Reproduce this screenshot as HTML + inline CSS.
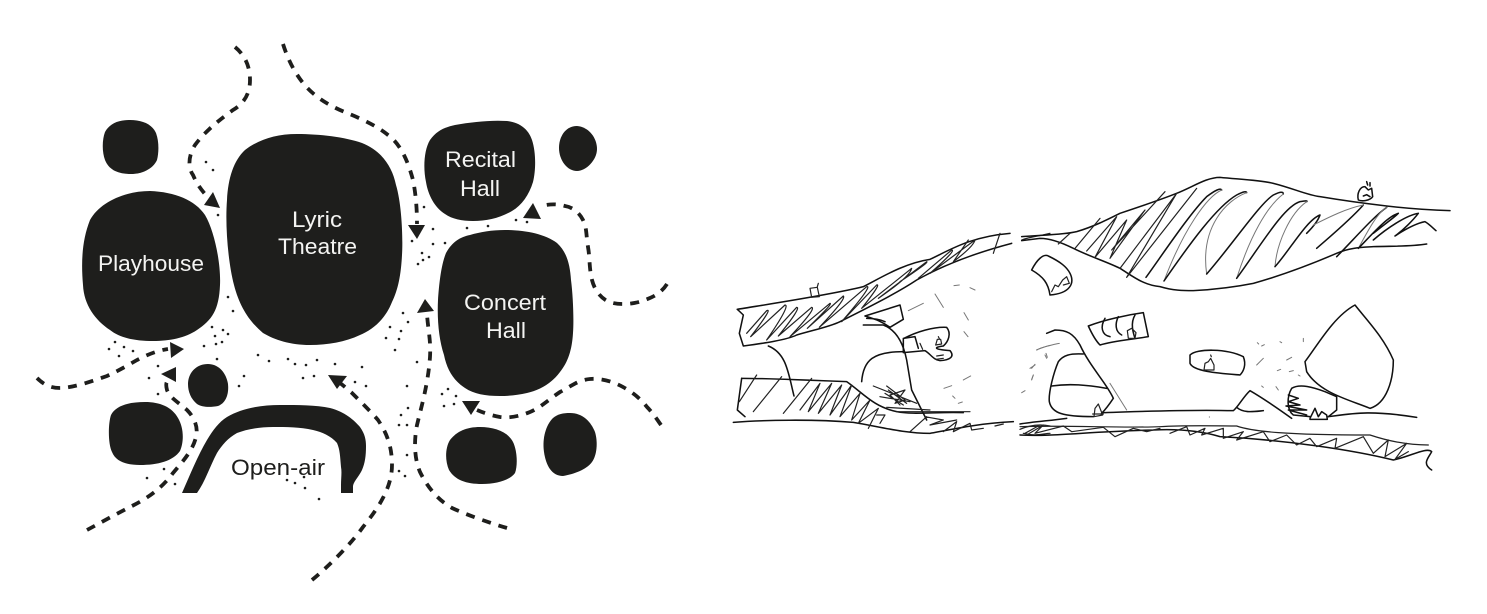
<!DOCTYPE html>
<html>
<head>
<meta charset="utf-8">
<style>
html,body{margin:0;padding:0;background:#fff;width:1487px;height:614px;overflow:hidden}
svg{display:block}
text{font-family:"Liberation Sans",sans-serif;font-size:22px}
.w{fill:#f4f4f2}
.k{fill:#1e1e1c}
.d{fill:none;stroke:#1e1e1c;stroke-width:3.8;stroke-dasharray:9 8}
.s{fill:none;stroke:#111;stroke-width:4.6;stroke-linecap:round;stroke-linejoin:round}
.t{fill:none;stroke:#222;stroke-width:3.6;stroke-linecap:round;stroke-linejoin:round}
.g{fill:none;stroke:#777;stroke-width:3;stroke-linecap:round;stroke-linejoin:round}
</style>
</head>
<body>
<svg width="1487" height="614" viewBox="0 0 1487 614" xmlns="http://www.w3.org/2000/svg">
<rect width="1487" height="614" fill="#fff"/>

<!-- blobs -->
<g class="k">
<path d="M130 120C142 120 152 124 156 133C159 141 159 152 157 160C153 169 142 174 131 174C118 174 109 170 105 160C102 152 102 140 105 132C110 123 119 120 130 120Z"/>
<path d="M150 191C175 192 195 200 205 215C215 232 221 265 220 285C219 310 212 320 197 330C185 338 170 341 153 341C135 341 120 338 110 330C95 320 84 305 83 285C81 262 82 240 90 220C100 202 125 191 150 191Z"/>
<path d="M297 134C320 134 345 137 362 143C380 150 392 165 396 185C402 205 403 240 402 255C401 275 398 290 392 302C385 320 372 330 360 335C345 342 328 345 310 345C290 345 275 340 263 333C250 322 240 308 234 285C228 262 225 225 227 200C228 178 234 160 245 150C258 140 275 134 297 134Z"/>
<path d="M507 121C518 122 528 128 532 140C536 152 536 170 533 182C529 195 522 205 512 211C500 218 487 221 473 221C462 221 452 219 445 214C435 208 428 195 426 182C423 168 424 150 430 140C437 130 446 127 455 125C472 122 490 120 507 121Z"/>
<path d="M577 126C589 127 597 138 597 149C597 160 586 171 577 171C567 171 559 160 559 148C559 136 566 126 577 126Z"/>
<path d="M505 230C525 230 545 234 557 243C567 252 570 265 571 280C573 295 574 320 573 333C572 350 568 362 560 372C552 383 540 390 527 393C518 395 510 396 500 396C485 396 474 394 465 388C454 381 447 370 444 355C439 340 437 320 438 300C439 285 441 265 446 253C452 242 460 237 470 235C480 232 492 230 505 230Z"/>
<path d="M208 364C218 364 226 372 228 384C229 394 226 403 218 406C212 407 203 408 197 404C191 399 188 392 188 384C188 373 196 364 208 364Z"/>
<path d="M145 402C160 402 172 407 178 418C184 428 184 442 180 451C173 461 158 465 140 465C127 465 116 462 112 452C108 444 108 424 111 415C116 405 130 402 145 402Z"/>
<path d="M480 427C495 427 508 432 513 442C517 450 518 465 515 473C510 480 497 484 482 484C466 484 455 480 449 470C445 461 445 448 450 440C457 431 467 427 480 427Z"/>
<path d="M570 413C583 413 591 422 595 432C598 442 597 455 592 462C586 470 574 474 563 476C552 476 546 466 544 452C542 438 546 425 553 418C558 414 563 413 570 413Z"/>
<path d="M182 493C190 475 198 455 207 440C213 430 219 422 227 417C242 408 262 405 280 405C298 405 316 405 330 408C345 412 354 420 360 427C365 434 366 440 366 446C366 456 365 463 362 470C358 478 353 482 353 487L353 493L341 493L341 485C341 478 342 472 341 467C340 456 340 450 337 443C331 436 322 432 313 430C300 427 286 427 273 427C260 427 247 429 237 433C228 438 222 445 217 453C210 466 205 482 197 493Z"/>
</g>

<!-- labels -->
<text class="w" x="98" y="271" textLength="106" lengthAdjust="spacingAndGlyphs">Playhouse</text>
<text class="w" x="292" y="227" textLength="50" lengthAdjust="spacingAndGlyphs">Lyric</text>
<text class="w" x="278" y="254" textLength="79" lengthAdjust="spacingAndGlyphs">Theatre</text>
<text class="w" x="445" y="167" textLength="71" lengthAdjust="spacingAndGlyphs">Recital</text>
<text class="w" x="460" y="196" textLength="40" lengthAdjust="spacingAndGlyphs">Hall</text>
<text class="w" x="464" y="310" textLength="82" lengthAdjust="spacingAndGlyphs">Concert</text>
<text class="w" x="486" y="338" textLength="40" lengthAdjust="spacingAndGlyphs">Hall</text>
<text class="k" x="231" y="475" textLength="94" lengthAdjust="spacingAndGlyphs">Open-air</text>

<!-- dashed routes -->
<path class="d" d="M235 47C246 56 250 68 250 80C250 95 243 104 233 110C222 118 206 130 195 145C188 156 188 168 193 175C196 182 199 187 205 194"/>
<path class="d" d="M283 44C288 60 295 73 303 83C315 98 332 107 347 113C362 119 377 126 388 135C402 145 409 165 413 180C416 195 417 210 417 224"/>
<path class="d" d="M667 284C660 295 650 298 645 300C635 304 622 305 613 303C603 301 595 292 592 280C589 268 590 258 588 247C586 235 587 228 583 220C579 212 572 207 565 206C558 204 552 204 546 205"/>
<path class="d" d="M37 378C45 386 52 388 60 388C72 388 90 382 107 376C120 370 130 364 137 360C145 356 155 351 168 349"/>
<path class="d" d="M87 530C100 523 118 513 132 506C148 498 162 488 173 473C184 460 193 450 196 437C199 425 192 415 187 410C178 402 170 398 167 390C166 386 166 383 167 382"/>
<path class="d" d="M312 580C330 565 350 545 363 527C375 512 392 490 392 465C392 445 386 432 378 420C372 413 362 403 352 393C347 389 344 386 340 383"/>
<path class="d" d="M507 528C490 523 467 515 452 508C438 500 428 488 420 472C414 458 414 440 417 425C421 408 428 385 430 357C431 340 428 330 427 314"/>
<path class="d" d="M661 425C656 418 652 412 647 407C640 398 632 392 623 387C612 381 600 378 590 379C578 380 570 387 560 392C548 400 540 408 530 412C518 417 508 418 500 417C490 415 484 413 477 410"/>

<!-- arrowheads -->
<g class="k">
<path d="M220 208L213 192L204 205Z"/>
<path d="M408 225L425 225L417 239Z"/>
<path d="M533 203L541 219L523 218Z"/>
<path d="M170 342L184 349L171 358Z"/>
<path d="M161 374L176 367L176 382Z"/>
<path d="M328 375L347 376L337 389Z"/>
<path d="M425 299L417 313L434 311Z"/>
<path d="M462 401L480 401L471 415Z"/>
</g>

<!-- dots -->
<g class="k">
<circle cx="206" cy="162" r="1.3"/><circle cx="213" cy="170" r="1.3"/><circle cx="218" cy="215" r="1.3"/><circle cx="228" cy="297" r="1.3"/><circle cx="424" cy="207" r="1.3"/><circle cx="433" cy="229" r="1.3"/><circle cx="412" cy="241" r="1.3"/><circle cx="433" cy="244" r="1.3"/><circle cx="445" cy="243" r="1.3"/><circle cx="422" cy="253" r="1.3"/><circle cx="429" cy="257" r="1.3"/><circle cx="423" cy="260" r="1.3"/><circle cx="418" cy="264" r="1.3"/><circle cx="467" cy="228" r="1.3"/><circle cx="488" cy="226" r="1.3"/><circle cx="516" cy="220" r="1.3"/><circle cx="527" cy="222" r="1.3"/>
<circle cx="233" cy="311" r="1.3"/><circle cx="212" cy="327" r="1.3"/><circle cx="223" cy="330" r="1.3"/><circle cx="228" cy="334" r="1.3"/><circle cx="215" cy="336" r="1.3"/><circle cx="222" cy="342" r="1.3"/><circle cx="216" cy="344" r="1.3"/><circle cx="204" cy="346" r="1.3"/><circle cx="217" cy="359" r="1.3"/><circle cx="115" cy="342" r="1.3"/><circle cx="124" cy="347" r="1.3"/><circle cx="109" cy="349" r="1.3"/><circle cx="133" cy="351" r="1.3"/><circle cx="119" cy="356" r="1.3"/><circle cx="158" cy="366" r="1.3"/><circle cx="149" cy="378" r="1.3"/><circle cx="158" cy="394" r="1.3"/><circle cx="244" cy="376" r="1.3"/><circle cx="239" cy="386" r="1.3"/><circle cx="258" cy="355" r="1.3"/><circle cx="269" cy="361" r="1.3"/><circle cx="288" cy="359" r="1.3"/><circle cx="295" cy="364" r="1.3"/><circle cx="306" cy="365" r="1.3"/><circle cx="317" cy="360" r="1.3"/><circle cx="335" cy="364" r="1.3"/><circle cx="362" cy="367" r="1.3"/><circle cx="303" cy="378" r="1.3"/><circle cx="314" cy="376" r="1.3"/><circle cx="355" cy="382" r="1.3"/><circle cx="366" cy="386" r="1.3"/><circle cx="164" cy="469" r="1.3"/><circle cx="147" cy="478" r="1.3"/><circle cx="175" cy="484" r="1.3"/><circle cx="287" cy="480" r="1.3"/><circle cx="295" cy="483" r="1.3"/><circle cx="304" cy="477" r="1.3"/><circle cx="305" cy="488" r="1.3"/><circle cx="319" cy="499" r="1.3"/>
<circle cx="403" cy="313" r="1.3"/><circle cx="408" cy="322" r="1.3"/><circle cx="390" cy="327" r="1.3"/><circle cx="401" cy="331" r="1.3"/><circle cx="386" cy="338" r="1.3"/><circle cx="399" cy="339" r="1.3"/><circle cx="395" cy="350" r="1.3"/><circle cx="417" cy="362" r="1.3"/><circle cx="407" cy="386" r="1.3"/><circle cx="408" cy="408" r="1.3"/><circle cx="401" cy="415" r="1.3"/><circle cx="399" cy="425" r="1.3"/><circle cx="407" cy="425" r="1.3"/><circle cx="407" cy="455" r="1.3"/><circle cx="399" cy="471" r="1.3"/><circle cx="405" cy="476" r="1.3"/><circle cx="442" cy="394" r="1.3"/><circle cx="448" cy="389" r="1.3"/><circle cx="456" cy="396" r="1.3"/><circle cx="444" cy="406" r="1.3"/><circle cx="454" cy="404" r="1.3"/>
</g>

<!-- sketch left part (coords in 3x space) -->
<g transform="translate(730 220) scale(.33333)">
<path class="s" d="M22 268C100 255 300 225 400 200C450 175 520 130 600 118C660 90 720 50 840 40"/>
<path class="s" d="M22 268L40 285L28 340L40 378C100 370 170 360 200 345C250 330 300 320 330 305C400 270 500 220 560 180C650 130 750 95 845 70"/>
<path class="t" d="M50 340L110 272Q130 262 62 350L165 255Q182 255 110 360L200 262Q215 262 145 348L245 262Q260 265 180 350L300 250Q310 250 232 325L340 228Q350 235 268 322L410 200Q430 195 335 305L440 195Q455 190 395 265L545 145Q540 170 445 235L590 125Q600 125 510 185M565 175L665 90Q680 90 600 160L735 60Q730 80 670 125L715 60M790 100L810 40"/>
<path class="t" d="M240 205L245 232L268 230L262 202ZM265 190L262 200"/>
<path class="s" d="M115 378C170 400 175 460 192 528"/>
<path class="s" d="M35 475C100 475 230 480 350 485C400 520 430 560 500 575C550 585 620 575 700 578"/>
<path class="s" d="M10 607C100 600 250 597 370 607C450 620 520 640 600 640C680 625 750 610 850 605"/>
<path class="s" d="M35 475L22 570L45 590"/>
<path class="t" d="M28 545L80 465M70 575L155 470M160 580L245 475M210 570L270 490L235 575L305 490L265 580L335 495L300 585L365 495L330 590L390 520L365 600L420 540L385 610L445 565L415 625M440 585L465 585L450 610"/>
<path class="s" d="M395 485C400 420 430 395 520 395"/>
<path class="s" d="M405 288L510 255L520 298L480 322C450 300 425 295 405 288ZM410 295C430 295 450 298 465 305"/>
<path class="s" d="M400 315L460 315C500 330 520 370 530 420L545 510L590 600"/>
<path class="s" d="M522 355C560 335 610 320 650 322C665 340 655 365 640 378C610 382 610 388 660 392C675 410 660 420 630 422C610 420 600 400 585 392L520 398L520 355L555 350L565 385"/>
<path class="t" d="M617 375L635 372L632 358L622 358ZM625 350L628 356M618 418L640 415M620 408L640 405M570 370L578 388"/>
<path class="t" d="M430 498L560 550M450 530L540 545M470 562L600 570M500 575L720 575M540 635L590 590M470 498L525 540L495 550L525 510L480 525L510 555M475 510L530 550M465 520L520 555M585 590L640 600L600 615L680 600M640 635L680 605L670 635L720 610L725 630L760 625M795 618L820 612"/>
<path class="g" d="M535 272L580 250M615 222L640 262M672 197L688 195M720 203L735 210M702 278L715 300M702 335L714 350M642 505L665 497M700 480L722 468M668 528L675 535M685 550L697 546M905 445L915 433M905 478L910 465M920 390C935 382 945 380 960 376M948 400L952 412"/>
<path class="t" d="M875 60C900 50 930 48 960 40M870 628C900 615 930 612 960 618M885 640L930 615M880 640C920 650 940 640 960 640"/>
</g>

<!-- hill -->
<g transform="translate(1020 170) scale(.33333)">
<path class="s" d="M5 200C60 195 130 195 170 185C220 170 260 150 300 130C360 110 420 90 470 70C520 50 560 22 600 22C660 28 720 30 760 40C820 55 860 75 900 80C960 90 1030 100 1100 108C1160 115 1220 120 1290 122"/>
<path class="s" d="M5 212L60 205C90 205 130 220 160 235C210 260 260 275 300 295C340 320 370 345 420 350C460 362 490 362 520 362C590 358 650 350 700 340C790 315 880 280 950 250C990 232 1030 232 1060 230C1120 228 1170 230 1220 222"/>
<path class="t" d="M115 222L150 190M165 235L240 145M200 243L290 140L225 262L320 150L270 265L375 120L275 240L435 65M300 295L470 70L320 322L530 55"/>
<path class="s" d="M378 322C430 250 510 130 560 80Q600 50 605 60"/>
<path class="g" d="M605 60C560 80 490 180 432 333"/>
<path class="s" d="M432 333C510 220 590 110 650 75Q680 60 680 68"/>
<path class="g" d="M680 68C620 90 540 170 560 312"/>
<path class="s" d="M560 312C640 220 720 100 760 75Q790 60 790 72"/>
<path class="g" d="M790 72C740 110 690 200 650 325"/>
<path class="s" d="M650 325C720 230 790 110 840 95Q865 90 860 95"/>
<path class="g" d="M860 95C810 130 770 220 765 290"/>
<path class="s" d="M765 290C810 240 860 150 900 135C895 150 880 170 860 190"/>
<path class="s" d="M890 235C930 200 990 150 1030 105"/>
<path class="g" d="M880 165C930 140 980 115 1030 105"/>
<path class="s" d="M950 260C1000 210 1060 140 1100 112"/>
<path class="g" d="M1100 112C1070 130 1040 190 1015 235"/>
<path class="s" d="M1015 235C1050 200 1100 140 1135 130C1120 145 1090 165 1060 190"/>
<path class="s" d="M1060 210C1100 175 1160 135 1195 130C1180 150 1150 180 1125 198C1160 175 1190 160 1215 155C1225 160 1240 175 1248 182"/>
<path class="s" d="M35 300C50 270 70 250 85 258C120 275 140 290 150 310C165 340 150 370 90 375C85 340 70 320 35 300Z"/>
<path class="t" d="M95 365L105 345L115 350L128 330L140 320L148 340L130 345"/>
<path class="s" d="M1015 90C1010 70 1020 50 1035 50L1045 60L1055 55L1058 80C1050 92 1025 95 1015 90ZM1030 78L1040 74L1050 80M1040 35L1043 45M1050 38L1050 48"/>
</g>

<!-- lower right -->
<g transform="translate(1020 300) scale(.33333)">
<path class="s" d="M80 100L105 90C140 90 160 100 180 135C210 200 260 250 280 295C270 310 255 330 245 340"/>
<path class="s" d="M190 162C150 160 130 165 115 185C100 220 85 280 88 305C95 340 130 350 220 350"/>
<path class="s" d="M95 258C150 250 200 255 260 265"/>
<path class="g" d="M270 250L320 330M50 150C70 140 95 135 118 130M30 205L45 195M35 240L40 225M75 165L80 175M5 278L15 272"/>
<path class="s" d="M245 338C350 335 500 328 640 332C655 320 670 290 690 272C730 295 780 330 815 355"/>
<path class="s" d="M650 322C670 340 700 335 730 332"/>
<path class="s" d="M510 165C530 145 620 145 670 170C680 195 670 215 660 225C600 220 520 215 510 190Z"/>
<path class="t" d="M552 210L555 190L565 185L572 175L582 195L582 210ZM572 165L574 170"/>
<path class="s" d="M205 78C250 60 320 45 370 38L385 110C340 118 280 122 240 135C225 120 215 100 205 78Z"/>
<path class="s" d="M255 55C240 80 245 105 270 110M295 50C285 70 285 95 305 105M345 45C330 70 340 100 345 115"/>
<path class="t" d="M322 92L335 85L348 98L345 115L325 115Z"/>
<path class="t" d="M222 350L225 325L235 312L248 345ZM218 342L250 342"/>
<path class="s" d="M1005 15C1040 60 1090 110 1120 180C1120 240 1100 310 1050 325C990 300 900 280 860 215L855 185C890 140 940 50 1005 15Z"/>
<path class="s" d="M915 275C880 262 840 250 815 265C800 290 800 330 820 345L870 350M915 275L950 290L950 330L925 350"/>
<path class="s" d="M925 350C1000 340 1050 330 1190 352"/>
<path class="s" d="M805 285L835 295L805 305L840 315L798 318L860 330L805 330L860 345M870 355L885 325L895 350L905 335L920 345L922 358L870 358"/>
<path class="g" d="M712 128L716 132M725 138L733 134M780 125L785 128M850 115L850 125M710 195L730 175M800 180L815 172M772 212L782 208M808 215L820 212M835 225L840 228M725 258L730 262M768 260L775 270"/>
<path class="s" d="M0 372C40 365 90 362 140 355M0 405C100 410 200 395 400 390C500 385 560 398 600 410C800 420 1000 450 1120 480C1170 470 1220 440 1235 455C1225 475 1205 490 1235 510"/>
<path class="t" d="M0 380C150 375 300 385 420 380C500 375 600 378 650 378C700 395 800 405 1050 405C1110 425 1170 435 1225 435"/>
<path class="t" d="M20 405L70 375L45 400L130 378L155 395L250 382L285 410L340 385L380 395L420 385M450 400L500 380L510 405L555 385L545 405L610 385L610 415L670 395L650 420L730 395L750 425L800 405L830 435L870 415L890 440L950 415L945 445L1030 410L1060 460L1105 420L1095 470L1160 430L1125 478L1165 455"/>
<circle cx="568" cy="351" r="1.5" fill="#333"/>
</g>
</svg>
</body>
</html>
